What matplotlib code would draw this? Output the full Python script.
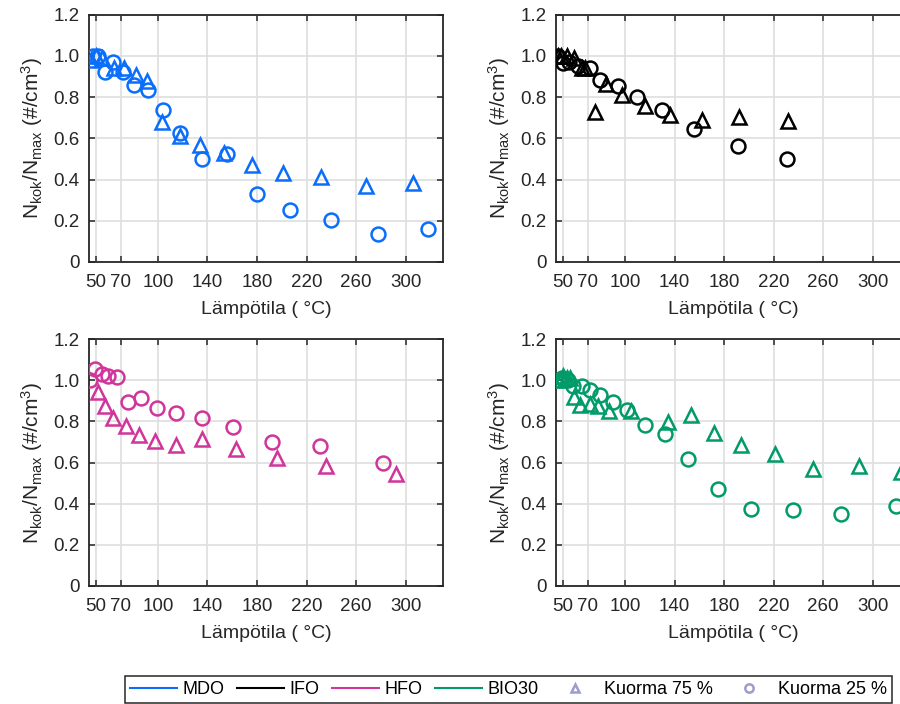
import matplotlib
matplotlib.use("Agg")
import matplotlib.pyplot as plt
from matplotlib.lines import Line2D

plt.rcParams['font.family'] = ['Liberation Sans', 'DejaVu Sans']
plt.rcParams['mathtext.fontset'] = 'custom'
plt.rcParams['mathtext.rm'] = 'Liberation Sans'
plt.rcParams['mathtext.it'] = 'Liberation Sans:italic'

# MDO
mdo_t75 = [46, 50, 55, 65, 73, 82, 91, 103, 118, 134, 153, 176, 201, 232, 268, 306]
mdo_n75 = [0.98, 1.0, 0.99, 0.94, 0.94, 0.91, 0.88, 0.68, 0.61, 0.57, 0.53, 0.47, 0.43, 0.41, 0.37, 0.385]
mdo_t25 = [48, 52, 57, 64, 72, 81, 92, 104, 118, 136, 156, 180, 207, 240, 278, 318]
mdo_n25 = [1.0, 1.0, 0.92, 0.97, 0.92, 0.86, 0.835, 0.74, 0.625, 0.50, 0.525, 0.33, 0.25, 0.205, 0.135, 0.16]

# IFO
ifo_t75 = [46, 48, 53, 59, 65, 68, 76, 85, 98, 116, 136, 162, 192, 232]
ifo_n75 = [1.0, 1.0, 1.0, 0.99, 0.94, 0.94, 0.73, 0.865, 0.81, 0.755, 0.715, 0.69, 0.705, 0.685]
ifo_t25 = [46, 50, 55, 62, 72, 80, 94, 110, 130, 156, 191, 231]
ifo_n25 = [1.0, 0.965, 0.97, 0.95, 0.94, 0.885, 0.855, 0.80, 0.74, 0.645, 0.565, 0.50]

# HFO
hfo_t75 = [52, 57, 64, 74, 85, 98, 115, 136, 163, 196, 236, 292]
hfo_n75 = [0.945, 0.875, 0.815, 0.78, 0.735, 0.705, 0.685, 0.715, 0.665, 0.62, 0.585, 0.545]
hfo_t25 = [45, 49, 55, 60, 67, 76, 86, 99, 115, 136, 161, 192, 231, 282]
hfo_n25 = [1.0, 1.055, 1.03, 1.02, 1.015, 0.895, 0.915, 0.865, 0.84, 0.815, 0.775, 0.70, 0.68, 0.60]

# BIO30
bio_t75 = [47, 50, 53, 56, 59, 64, 72, 78, 87, 105, 135, 153, 172, 194, 221, 252, 289, 323]
bio_n75 = [1.0, 1.02, 1.01, 1.01, 0.92, 0.88, 0.885, 0.875, 0.85, 0.85, 0.795, 0.83, 0.745, 0.685, 0.64, 0.57, 0.585, 0.555]
bio_t25 = [47, 49, 51, 54, 58, 65, 72, 80, 90, 102, 116, 132, 151, 175, 202, 236, 274, 319]
bio_n25 = [1.0, 1.01, 1.0, 1.0, 0.975, 0.975, 0.955, 0.93, 0.895, 0.855, 0.785, 0.74, 0.615, 0.47, 0.375, 0.37, 0.35, 0.39]

fuels = ['MDO', 'IFO', 'HFO', 'BIO30']
colors = ['#0A6EFA', '#000000', '#D0359C', '#009B68']
series = [
    (mdo_t75, mdo_n75, mdo_t25, mdo_n25),
    (ifo_t75, ifo_n75, ifo_t25, ifo_n25),
    (hfo_t75, hfo_n75, hfo_t25, hfo_n25),
    (bio_t75, bio_n75, bio_t25, bio_n25),
]
xticks = [50, 70, 100, 140, 180, 220, 260, 300]
yticks = [0, 0.2, 0.4, 0.6, 0.8, 1.0, 1.2]
yticklabels = ['0', '0.2', '0.4', '0.6', '0.8', '1.0', '1.2']

fig = plt.figure(figsize=(9, 7.04), dpi=100)
positions = [
    [0.099, 0.628, 0.393, 0.351],
    [0.618, 0.628, 0.393, 0.351],
    [0.099, 0.168, 0.393, 0.350],
    [0.618, 0.168, 0.393, 0.350],
]

for pos, col, (t75, n75, t25, n25) in zip(positions, colors, series):
    ax = fig.add_axes(pos)
    ax.plot(t75, n75, linestyle='none', marker='^', markersize=10,
            markerfacecolor='none', markeredgecolor=col, markeredgewidth=1.8, zorder=3)
    ax.plot(t25, n25, linestyle='none', marker='o', markersize=10,
            markerfacecolor='none', markeredgecolor=col, markeredgewidth=1.8, zorder=3)
    ax.set_xlim(44.5, 330)
    ax.set_ylim(0, 1.2)
    ax.set_xticks(xticks)
    ax.set_yticks(yticks)
    ax.set_yticklabels(yticklabels)
    ax.grid(True, color='#dedede', linewidth=1.2)
    ax.set_axisbelow(True)
    ax.tick_params(direction='in', top=True, right=True, labelsize=13.5,
                   colors='#262626', length=4, width=1.1)
    ax.tick_params(axis='x', pad=9)
    ax.tick_params(axis='y', pad=7)
    for s in ax.spines.values():
        s.set_color('#262626')
        s.set_linewidth(1.3)
    ax.set_xlabel('Lämpötila ( °C)', fontsize=14, color='#262626', labelpad=7)
    ax.set_ylabel(r'$\mathrm{N_{kok}/N_{max}}$ (#/cm$^3$)', fontsize=15,
                  color='#262626', labelpad=6)

handles = [Line2D([], [], color=c, linewidth=1.5) for c in colors]
handles.append(Line2D([], [], linestyle='none', marker='^', markersize=6,
                      markerfacecolor='none', markeredgecolor='#9C9CCF', markeredgewidth=1.8))
handles.append(Line2D([], [], linestyle='none', marker='o', markersize=6,
                      markerfacecolor='none', markeredgecolor='#9C9CCF', markeredgewidth=1.8))
labels = fuels + ['Kuorma 75 %', 'Kuorma 25 %']
leg = fig.legend(handles, labels, loc='center', bbox_to_anchor=(0.565, 0.0206),
                 ncol=6, fontsize=13, frameon=True, fancybox=False,
                 edgecolor='#262626', framealpha=1, handlelength=2.6,
                 columnspacing=0.7, handletextpad=0.3, borderpad=0.3)
leg.get_frame().set_linewidth(1.1)

fig.savefig('out.png', dpi=100)
